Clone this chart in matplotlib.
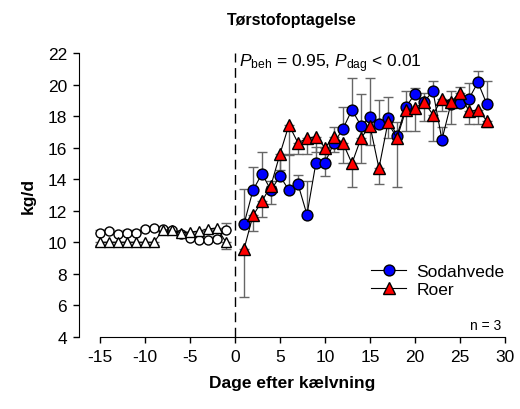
import matplotlib
matplotlib.use('Agg')
import matplotlib.pyplot as plt
from matplotlib.lines import Line2D
import numpy as np

plt.rcParams['font.family'] = ['Liberation Sans', 'DejaVu Sans']
plt.rcParams['mathtext.fontset'] = 'custom'
plt.rcParams['mathtext.rm'] = 'Liberation Sans'
plt.rcParams['mathtext.it'] = 'Liberation Sans:italic'
plt.rcParams['axes.unicode_minus'] = False

# before calving (open markers)
pre_days = list(range(-15, 0))
pre_soda = [10.6, 10.7, 10.5, 10.6, 10.6, 10.85, 10.9, 10.85, 10.75, 10.55,
            10.3, 10.15, 10.15, 10.2, 10.8]
pre_soda_err = [0.15, 0.15, 0.15, 0.15, 0.15, 0.15, 0.15, 0.15, 0.15, 0.15,
                0.15, 0.15, 0.15, 0.2, 0.4]
pre_roer = [10.0, 10.0, 10.0, 10.0, 10.0, 10.0, 10.0, 10.8, 10.75, 10.6,
            10.65, 10.7, 10.85, 10.9, 10.0]
pre_roer_err = [0.15, 0.15, 0.15, 0.15, 0.15, 0.15, 0.15, 0.15, 0.15, 0.15,
                0.15, 0.15, 0.15, 0.15, 0.4]

# after calving
post_days = list(range(1, 29))
soda = [11.15, 13.3, 14.35, 13.3, 14.2, 13.3, 13.7, 11.75, 15.05, 15.05,
        16.3, 17.2, 18.4, 17.4, 17.95, 17.5, 17.9, 16.75, 18.6, 19.4,
        18.9, 19.6, 16.5, 18.8, 18.85, 19.1, 20.15, 18.75]
soda_err = [2.25, 1.5, 1.35, 0.6, 1.2, 2.3, 0.55, 2.15, 1.0, 1.0,
            1.0, 1.4, 2.0, 2.0, 2.5, 1.5, 1.3, 0.9, 1.0, 0.4,
            0.6, 0.6, 0.8, 0.8, 1.0, 1.0, 0.7, 1.45]
roer = [9.55, 11.7, 12.6, 13.6, 15.6, 17.45, 16.3, 16.6, 16.7, 16.0,
        16.7, 16.3, 15.0, 16.6, 17.4, 14.7, 17.6, 16.6, 18.4, 18.5,
        18.9, 18.1, 19.1, 18.9, 19.5, 18.3, 18.4, 17.7]
roer_err = [3.0, 1.0, 1.0, 1.2, 1.0, 1.9, 0.7, 1.0, 1.0, 1.8,
            1.0, 1.3, 1.5, 1.6, 1.2, 1.0, 1.0, 3.1, 1.35, 1.45,
            1.2, 1.7, 0.8, 1.4, 0.8, 0.8, 0.9, 0.4]

err_col = '#666666'

fig = plt.figure(figsize=(5.2, 4.1), dpi=100)
ax = fig.add_axes([0.152, 0.176, 0.819, 0.692])

# pre-calving
ax.errorbar(pre_days, pre_soda, yerr=[np.zeros(len(pre_soda)), pre_soda_err],
            fmt='none', ecolor=err_col, elinewidth=1, capsize=3.5, zorder=1)
ax.errorbar(pre_days, pre_roer, yerr=[pre_roer_err, np.zeros(len(pre_roer))],
            fmt='none', ecolor=err_col, elinewidth=1, capsize=3.5, zorder=1)
ax.plot(pre_days, pre_soda, '-o', color='black', lw=0.8, ms=6.5,
        mfc='white', mec='black', mew=1, zorder=3)
ax.plot(pre_days, pre_roer, '-^', color='black', lw=0.8, ms=7,
        mfc='white', mec='black', mew=1, zorder=3)

# post-calving
ax.errorbar(post_days, soda, yerr=[np.zeros(len(soda)), soda_err],
            fmt='none', ecolor=err_col, elinewidth=1, capsize=3.5, zorder=1)
ax.errorbar(post_days, roer, yerr=[roer_err, np.zeros(len(roer))],
            fmt='none', ecolor=err_col, elinewidth=1, capsize=3.5, zorder=1)
ax.plot(post_days, soda, '-o', color='black', lw=0.8, ms=7.8,
        mfc='#0000ff', mec='black', mew=1, zorder=3)
ax.plot(post_days, roer, '-^', color='black', lw=0.8, ms=8.3,
        mfc='#ff0000', mec='black', mew=1, zorder=4)

ax.axvline(0, color='black', lw=1, ls=(0, (7, 4)), zorder=2)

ax.set_xlim(-17.33, 30)
ax.set_ylim(4, 22)
ax.set_xticks(np.arange(-15, 31, 5))
ax.set_yticks(np.arange(4, 23, 2))
ax.spines['top'].set_visible(False)
ax.spines['right'].set_visible(False)
ax.spines['bottom'].set_bounds(-15, 30)
ax.tick_params(direction='out', length=4.5, width=1, labelsize=12.5,
               color='black', pad=4)

ax.set_title('Tørstofoptagelse', fontsize=11.5, fontweight='bold', pad=21)
ax.set_xlabel('Dage efter kælvning', fontsize=12.5, fontweight='bold', labelpad=8)
ax.set_ylabel('kg/d', fontsize=12.5, fontweight='bold', labelpad=9)

ax.text(0.5, 21.4, r'$P_{\rm beh}$ = 0.95, $P_{\rm dag}$ < 0.01',
        fontsize=12.5, va='center', ha='left')
ax.text(29.6, 4.75, 'n = 3', fontsize=10, ha='right', va='center')

handles = [Line2D([], [], color='black', lw=0.8, marker='o', ms=7.8,
                  mfc='#0000ff', mec='black'),
           Line2D([], [], color='black', lw=0.8, marker='^', ms=8.3,
                  mfc='#ff0000', mec='black')]
ax.legend(handles, ['Sodahvede', 'Roer'], loc='upper left',
          bbox_to_anchor=(0.67, 0.28), frameon=False, fontsize=12.5,
          handlelength=2.0, handletextpad=0.6, labelspacing=0.15,
          borderaxespad=0)

fig.savefig('out.png', dpi=100)
